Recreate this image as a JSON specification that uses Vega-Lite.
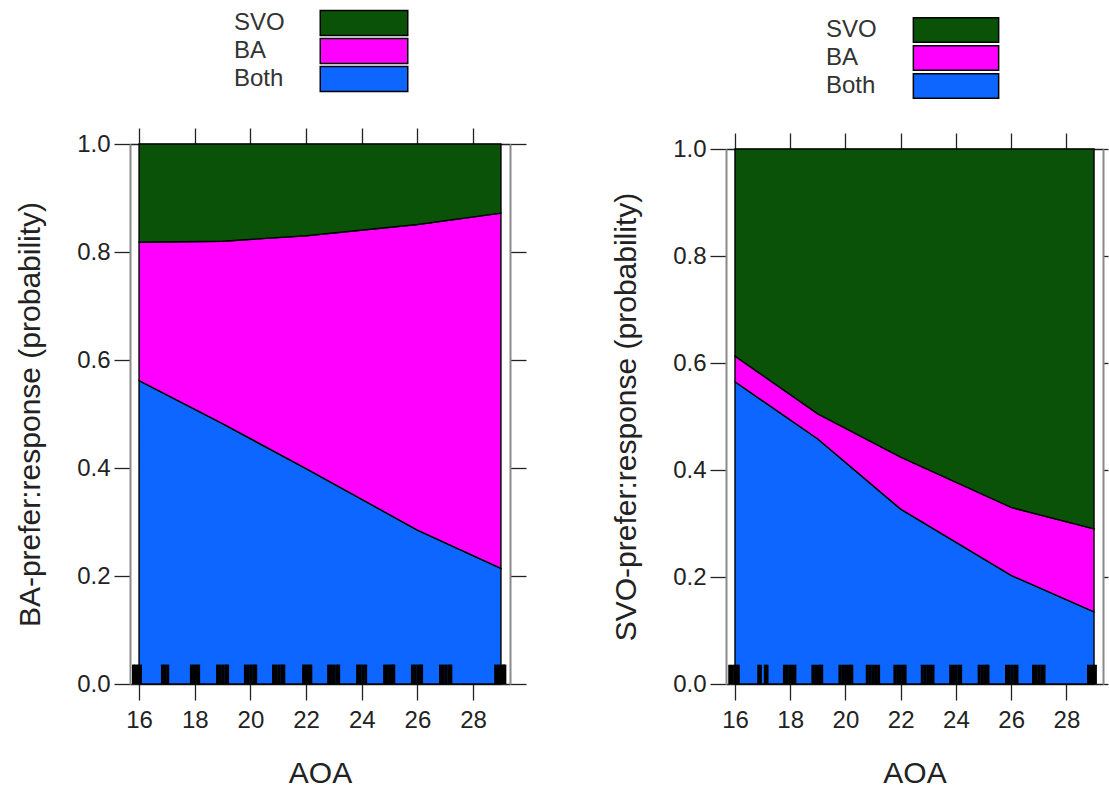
{
  "$schema": "https://vega.github.io/schema/vega-lite/v6.json",
  "background": "white",
  "padding": {"left": 15, "top": 11, "right": 0, "bottom": 0},
  "config": {
    "font": "Liberation Sans",
    "view": {"stroke": null},
    "axis": {
      "labelFont": "Liberation Sans",
      "labelFontSize": 24,
      "labelColor": "#222222",
      "titleFont": "Liberation Sans",
      "titleFontSize": 30,
      "titleFontWeight": "normal",
      "titleColor": "#222222",
      "tickSize": 16,
      "tickColor": "#222222",
      "tickWidth": 1.3,
      "domain": true,
      "domainColor": "#222222",
      "domainWidth": 1.3,
      "grid": false,
      "labelFlush": false
    },
    "axisY": {"domainColor": "#8a8a8a", "domainWidth": 2},
    "legend": {
      "labelFont": "Liberation Sans",
      "labelFontSize": 24,
      "labelColor": "#333333"
    },
    "concat": {"spacing": 84}
  },
  "resolve": {"scale": {"color": "independent"}, "legend": {"color": "independent"}},
  "datasets": {
    "baPrefer": [
      {"AOA": 16, "response": "Both", "k": 1, "p": 0.562},
      {"AOA": 19, "response": "Both", "k": 1, "p": 0.482},
      {"AOA": 22, "response": "Both", "k": 1, "p": 0.399},
      {"AOA": 26, "response": "Both", "k": 1, "p": 0.285},
      {"AOA": 29, "response": "Both", "k": 1, "p": 0.214},
      {"AOA": 16, "response": "BA", "k": 2, "p": 0.256},
      {"AOA": 19, "response": "BA", "k": 2, "p": 0.338},
      {"AOA": 22, "response": "BA", "k": 2, "p": 0.431},
      {"AOA": 26, "response": "BA", "k": 2, "p": 0.566},
      {"AOA": 29, "response": "BA", "k": 2, "p": 0.658},
      {"AOA": 16, "response": "SVO", "k": 3, "p": 0.182},
      {"AOA": 19, "response": "SVO", "k": 3, "p": 0.180},
      {"AOA": 22, "response": "SVO", "k": 3, "p": 0.170},
      {"AOA": 26, "response": "SVO", "k": 3, "p": 0.149},
      {"AOA": 29, "response": "SVO", "k": 3, "p": 0.128}
    ],
    "svoPrefer": [
      {"AOA": 16, "response": "Both", "k": 1, "p": 0.565},
      {"AOA": 19, "response": "Both", "k": 1, "p": 0.458},
      {"AOA": 22, "response": "Both", "k": 1, "p": 0.327},
      {"AOA": 26, "response": "Both", "k": 1, "p": 0.203},
      {"AOA": 29, "response": "Both", "k": 1, "p": 0.135},
      {"AOA": 16, "response": "BA", "k": 2, "p": 0.048},
      {"AOA": 19, "response": "BA", "k": 2, "p": 0.047},
      {"AOA": 22, "response": "BA", "k": 2, "p": 0.097},
      {"AOA": 26, "response": "BA", "k": 2, "p": 0.127},
      {"AOA": 29, "response": "BA", "k": 2, "p": 0.155},
      {"AOA": 16, "response": "SVO", "k": 3, "p": 0.387},
      {"AOA": 19, "response": "SVO", "k": 3, "p": 0.495},
      {"AOA": 22, "response": "SVO", "k": 3, "p": 0.576},
      {"AOA": 26, "response": "SVO", "k": 3, "p": 0.670},
      {"AOA": 29, "response": "SVO", "k": 3, "p": 0.710}
    ],
    "baRug": [
      {"AOA": 15.80}, {"AOA": 15.88}, {"AOA": 15.97}, {"AOA": 16.05},
      {"AOA": 16.84}, {"AOA": 16.93}, {"AOA": 17.03},
      {"AOA": 17.88}, {"AOA": 17.97}, {"AOA": 18.06}, {"AOA": 18.14},
      {"AOA": 18.82}, {"AOA": 18.92}, {"AOA": 19.02}, {"AOA": 19.12}, {"AOA": 19.18},
      {"AOA": 19.82}, {"AOA": 19.92}, {"AOA": 20.02}, {"AOA": 20.12}, {"AOA": 20.19},
      {"AOA": 20.83}, {"AOA": 20.93}, {"AOA": 21.03}, {"AOA": 21.13}, {"AOA": 21.20},
      {"AOA": 21.91}, {"AOA": 22.00}, {"AOA": 22.09}, {"AOA": 22.17},
      {"AOA": 22.81}, {"AOA": 22.91}, {"AOA": 23.01}, {"AOA": 23.11}, {"AOA": 23.17},
      {"AOA": 23.85}, {"AOA": 23.94}, {"AOA": 24.04}, {"AOA": 24.14},
      {"AOA": 24.82}, {"AOA": 24.92}, {"AOA": 25.02}, {"AOA": 25.10}, {"AOA": 25.15},
      {"AOA": 25.82}, {"AOA": 25.92}, {"AOA": 26.02}, {"AOA": 26.10}, {"AOA": 26.15},
      {"AOA": 26.83}, {"AOA": 26.93}, {"AOA": 27.03}, {"AOA": 27.13}, {"AOA": 27.20},
      {"AOA": 28.81}, {"AOA": 28.91}, {"AOA": 29.01}, {"AOA": 29.09}, {"AOA": 29.14}
    ],
    "svoRug": [
      {"AOA": 15.81}, {"AOA": 15.90}, {"AOA": 15.99}, {"AOA": 16.08}, {"AOA": 16.12},
      {"AOA": 16.86}, {"AOA": 16.92},
      {"AOA": 17.10}, {"AOA": 17.16},
      {"AOA": 17.79}, {"AOA": 17.88}, {"AOA": 17.98}, {"AOA": 18.08}, {"AOA": 18.17},
      {"AOA": 18.82}, {"AOA": 18.92}, {"AOA": 19.02}, {"AOA": 19.10}, {"AOA": 19.14},
      {"AOA": 19.80}, {"AOA": 19.90}, {"AOA": 20.00}, {"AOA": 20.10}, {"AOA": 20.18}, {"AOA": 20.23},
      {"AOA": 20.79}, {"AOA": 20.89}, {"AOA": 20.99}, {"AOA": 21.09}, {"AOA": 21.20},
      {"AOA": 21.79}, {"AOA": 21.89}, {"AOA": 21.99}, {"AOA": 22.09}, {"AOA": 22.16},
      {"AOA": 22.78}, {"AOA": 22.88}, {"AOA": 22.98}, {"AOA": 23.08}, {"AOA": 23.17},
      {"AOA": 23.81}, {"AOA": 23.91}, {"AOA": 24.01}, {"AOA": 24.11}, {"AOA": 24.17},
      {"AOA": 24.84}, {"AOA": 24.94}, {"AOA": 25.04}, {"AOA": 25.12}, {"AOA": 25.16},
      {"AOA": 25.83}, {"AOA": 25.93}, {"AOA": 26.03}, {"AOA": 26.13}, {"AOA": 26.21},
      {"AOA": 26.81}, {"AOA": 26.91}, {"AOA": 27.01}, {"AOA": 27.11}, {"AOA": 27.19},
      {"AOA": 28.80}, {"AOA": 28.90}, {"AOA": 28.98}, {"AOA": 29.05}
    ]
  },
  "hconcat": [
    {
      "width": 380,
      "height": 540,
      "layer": [
        {
          "data": {"name": "baPrefer"},
          "mark": {"type": "area", "stroke": "black", "strokeWidth": 1.4, "opacity": 1},
          "encoding": {
            "x": {
              "field": "AOA", "type": "quantitative",
              "scale": {"domain": [15.675, 29.325], "nice": false, "zero": false},
              "axis": {"values": [16, 18, 20, 22, 24, 26, 28], "title": "AOA", "labelPadding": 8, "titlePadding": 26}
            },
            "y": {
              "field": "p", "type": "quantitative", "stack": "zero",
              "scale": {"domain": [0, 1], "nice": false},
              "axis": {"values": [0, 0.2, 0.4, 0.6, 0.8, 1], "format": ".1f", "title": "BA-prefer:response (probability)", "labelPadding": 4, "titlePadding": 31}
            },
            "color": {
              "field": "response", "type": "nominal",
              "scale": {"domain": ["SVO", "BA", "Both"], "range": ["#0b5209", "#ff00ff", "#0c66ff"]},
              "legend": {
                "orient": "none", "legendX": 222, "legendY": -133, "title": null,
                "symbolType": "M-4.375,-1.25H4.375V1.25H-4.375Z", "symbolSize": 400,
                "symbolStrokeColor": "black", "symbolStrokeWidth": 1.5, "symbolOpacity": 1,
                "labelOffset": -142, "labelAlign": "left", "rowPadding": -7, "padding": 0
              }
            },
            "order": {"field": "k", "type": "quantitative"}
          }
        },
        {
          "data": {"name": "baRug"},
          "mark": {"type": "rule", "color": "black", "strokeWidth": 3},
          "encoding": {
            "x": {
              "field": "AOA", "type": "quantitative",
              "scale": {"domain": [15.675, 29.325], "nice": false, "zero": false},
              "axis": {"orient": "top", "values": [16, 18, 20, 22, 24, 26, 28], "labels": false, "title": null}
            },
            "y": {
              "datum": 0, "type": "quantitative",
              "scale": {"domain": [0, 1], "nice": false},
              "axis": {"orient": "right", "values": [0, 0.2, 0.4, 0.6, 0.8, 1], "labels": false, "title": null}
            },
            "y2": {"datum": 0.036}
          }
        }
      ],
      "resolve": {"axis": {"x": "independent", "y": "independent"}}
    },
    {
      "width": 377,
      "height": 540,
      "layer": [
        {
          "data": {"name": "svoPrefer"},
          "mark": {"type": "area", "stroke": "black", "strokeWidth": 1.4, "opacity": 1},
          "encoding": {
            "x": {
              "field": "AOA", "type": "quantitative",
              "scale": {"domain": [15.675, 29.325], "nice": false, "zero": false},
              "axis": {"values": [16, 18, 20, 22, 24, 26, 28], "title": "AOA", "labelPadding": 8, "titlePadding": 26}
            },
            "y": {
              "field": "p", "type": "quantitative", "stack": "zero",
              "scale": {"domain": [0, 1], "nice": false, "range": [540, 5]},
              "axis": {"values": [0, 0.2, 0.4, 0.6, 0.8, 1], "format": ".1f", "title": "SVO-prefer:response (probability)", "labelPadding": 4, "titlePadding": 31}
            },
            "color": {
              "field": "response", "type": "nominal",
              "scale": {"domain": ["SVO", "BA", "Both"], "range": ["#0b5209", "#ff00ff", "#0c66ff"]},
              "legend": {
                "orient": "none", "legendX": 218, "legendY": -126, "title": null,
                "symbolType": "M-4.375,-1.25H4.375V1.25H-4.375Z", "symbolSize": 380,
                "symbolStrokeColor": "black", "symbolStrokeWidth": 1.5, "symbolOpacity": 1,
                "labelOffset": -142, "labelAlign": "left", "rowPadding": -7, "padding": 0
              }
            },
            "order": {"field": "k", "type": "quantitative"}
          }
        },
        {
          "data": {"name": "svoRug"},
          "mark": {"type": "rule", "color": "black", "strokeWidth": 3},
          "encoding": {
            "x": {
              "field": "AOA", "type": "quantitative",
              "scale": {"domain": [15.675, 29.325], "nice": false, "zero": false},
              "axis": {"orient": "top", "offset": -5, "values": [16, 18, 20, 22, 24, 26, 28], "labels": false, "title": null}
            },
            "y": {
              "datum": 0, "type": "quantitative",
              "scale": {"domain": [0, 1], "nice": false, "range": [540, 5]},
              "axis": {"orient": "right", "values": [0, 0.2, 0.4, 0.6, 0.8, 1], "labels": false, "title": null, "tickSize": 5}
            },
            "y2": {"datum": 0.036}
          }
        }
      ],
      "resolve": {"axis": {"x": "independent", "y": "independent"}}
    }
  ]
}
